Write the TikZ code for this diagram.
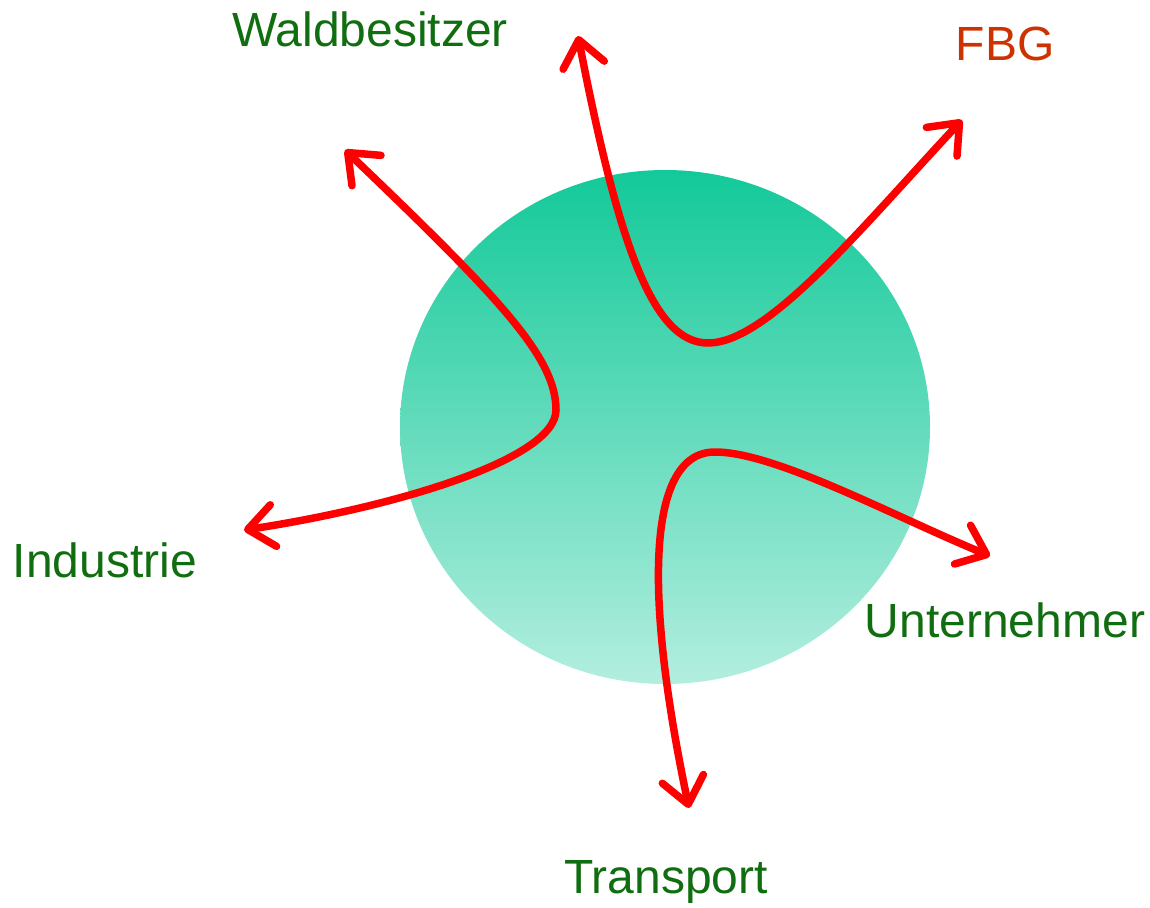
\documentclass[tikz,border=0pt]{standalone}
\usepackage{fontspec}
\setmainfont{Liberation Sans}
\usetikzlibrary{arrows.meta}
\definecolor{actc}{RGB}{16,110,16}
\definecolor{fbgc}{RGB}{204,51,0}
\definecolor{ballt}{RGB}{19,201,153}
\definecolor{ballb}{RGB}{179,238,223}

\begin{document}
\begin{tikzpicture}[x=1pt,y=-1pt]
\tikzstyle{who}=[anchor=base,inner sep=0pt,text=actc,font=\fontsize{48}{57}\selectfont];
\tikzstyle{flow}=[red,line width=7.5pt,line cap=round,{Straight Barb[length=26pt,width=42pt,round]}-{Straight Barb[length=26pt,width=42pt,round]}];

\useasboundingbox (0,0) rectangle (1150,907);

\shade[top color=ballt,bottom color=ballb] (665,427) ellipse [x radius=265,y radius=257];

% labels
\node[who] (wald) at (370,46) {Waldbesitzer};
\node[who,text=fbgc] (fbg) at (1005,60) {FBG};
\node[who] (ind) at (105,577) {Industrie};
\node[who] (unt) at (1005,637) {Unternehmer};
\node[who] (trans) at (666,893) {Transport};

% arrow ends
\coordinate (wt) at (578,36);
\coordinate (ft) at (962,120);
\coordinate (lt) at (345,150);
\coordinate (it) at (244,530);
\coordinate (ut) at (990,556);
\coordinate (tt) at (689,808);

\draw[flow] (wt) .. controls (618,241) and (652,343) .. (708,343)
                 .. controls (768,343) and (861,228) .. (ft);
\draw[flow] (lt) .. controls (502,300) and (556,358) .. (556,410)
                 .. controls (556,460) and (390,508) .. (it);
\draw[flow] (tt) .. controls (645,600) and (645,452) .. (715,452)
                 .. controls (775,452) and (891,515) .. (ut);

\end{tikzpicture}
\end{document}
